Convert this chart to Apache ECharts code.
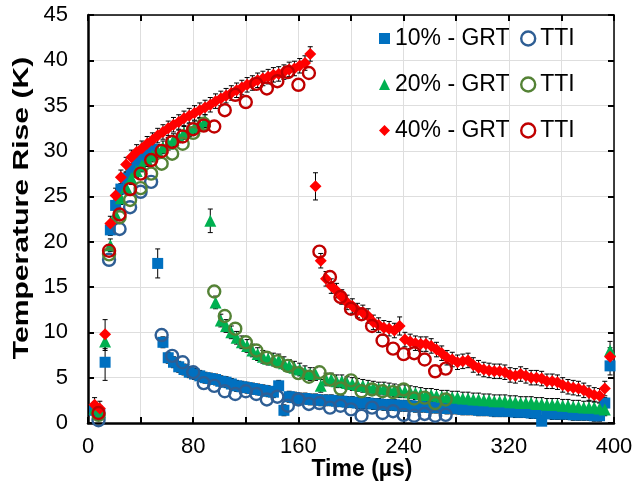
<!DOCTYPE html>
<html><head><meta charset="utf-8">
<script src="https://cdn.jsdelivr.net/npm/echarts@6/dist/echarts.min.js"></script>
<style>html,body{margin:0;padding:0;background:#fff}#c{width:634px;height:492px}</style>
</head><body><div id="c"></div>
<script>
// ---- data ----
const tGRT = [5,9,13,17,21,25,29,33,37,41,
  45,49,53,57,61,65,69,73,77,81,
  85,89,93,97,101,105,109,113,117,121,
  125,129,133,137,141,145,149,153,157,161,
  165,169,173,177,181,185,189,193,197,201,
  205,209,213,217,221,225,229,233,237,241,
  245,249,253,257,261,265,269,273,277,281,
  285,289,293,297,301,305,309,313,317,321,
  325,329,333,337,341,345,349,353,357,361,
  365,369,373,377,381,385,389,393,397];
const grt10 = [1.4,1.0,6.7,21.3,24.0,25.8,27.0,28.0,28.7,29.3,
  29.8,30.2,17.6,8.9,7.2,6.7,6.2,5.9,5.6,5.4,
  5.2,5.0,4.9,4.8,4.6,4.5,4.3,4.1,4.0,3.9,
  3.8,3.7,3.6,3.5,3.4,4.1,1.4,2.9,2.8,2.7,
  2.7,2.6,2.6,2.5,2.5,2.5,2.4,2.4,2.3,2.3,
  2.2,2.2,2.2,2.1,2.1,2.0,2.0,2.0,1.9,1.9,
  1.9,1.8,1.8,1.8,1.7,1.7,1.7,1.6,1.6,1.6,
  1.5,1.5,1.5,1.4,1.4,1.4,1.3,1.3,1.3,1.3,
  1.2,1.2,1.2,1.1,1.1,0.2,1.1,1.0,1.0,1.0,
  1.0,0.9,0.9,0.9,0.9,0.8,0.8,2.2,6.3];
const grt20 = [1.6,1.2,9.0,19.6,23.0,24.8,26.0,27.0,27.8,28.4,
  29.0,29.5,30.0,30.4,30.8,31.2,31.6,32.0,32.3,32.6,
  32.9,33.3,22.3,13.3,11.3,10.7,10.0,9.4,8.9,8.5,
  8.0,7.6,7.3,7.1,7.0,6.9,6.6,6.3,6.1,5.9,
  5.6,5.4,5.4,4.1,4.8,4.8,4.6,4.6,4.4,4.3,
  4.2,4.1,4.0,3.9,3.8,3.8,3.7,3.6,3.5,3.5,
  3.4,3.3,3.2,3.1,3.1,3.0,2.9,2.9,2.8,2.8,
  2.7,2.7,2.6,2.6,2.5,2.5,2.4,2.4,2.4,2.3,
  2.3,2.2,2.2,2.2,2.1,2.1,2.0,2.0,2.0,1.9,
  1.9,1.8,1.8,1.7,1.7,1.7,1.6,1.5,8.0];
const grt40 = [2.0,1.6,9.8,22.0,25.1,27.1,28.5,29.3,29.9,30.3,
  30.8,31.2,31.7,32.1,32.5,32.9,33.2,33.6,33.9,34.2,
  34.5,34.8,35.1,35.5,35.8,36.1,36.4,36.7,37.0,37.3,
  37.5,37.8,38.0,38.2,38.4,38.5,38.7,39.0,39.1,39.4,
  39.7,40.7,26.1,17.9,15.9,15.1,14.6,13.9,13.3,12.9,
  12.4,12.2,11.8,11.1,10.8,10.5,10.4,10.2,10.7,9.2,
  9.0,8.8,8.7,8.7,8.5,8.1,7.7,7.2,7.0,6.7,
  6.8,6.9,6.4,6.1,5.9,5.8,5.7,5.7,5.6,5.3,
  5.2,5.4,5.2,5.0,5.0,4.9,4.6,4.6,4.5,4.2,
  4.0,3.9,3.8,3.6,3.3,3.1,3.0,3.8,7.3];
const err10 = [0.6,0.6,2.0,0.6,0.6,0.6,0.6,0.6,0.6,0.6,
  0.6,0.6,1.6,0.6,0.6,0.6,0.6,0.6,0.6,0.6,
  0.6,0.6,0.6,0.6,0.6,0.6,0.6,0.6,0.6,0.6,
  0.6,0.6,0.6,0.6,0.6,0.6,0.6,0.6,0.6,0.6,
  0.6,0.6,0.6,0.6,0.6,0.6,0.6,0.6,0.6,0.6,
  0.6,0.6,0.6,0.6,0.6,0.6,0.6,0.6,0.6,0.6,
  0.6,0.6,0.6,0.6,0.6,0.6,0.6,0.6,0.6,0.6,
  0.6,0.6,0.6,0.6,0.6,0.6,0.6,0.6,0.6,0.6,
  0.6,0.6,0.6,0.6,0.6,0.6,0.6,0.6,0.6,0.6,
  0.6,0.6,0.6,0.6,0.6,0.6,0.6,0.6,1.0];
const err20 = [0.7,0.7,1.0,0.7,0.7,0.7,0.7,0.7,0.7,0.7,
  0.7,0.7,0.7,0.7,0.7,0.7,0.7,0.7,0.7,0.7,
  0.7,0.7,1.3,0.7,0.7,0.7,0.7,0.7,0.7,0.7,
  0.7,0.7,0.7,0.7,0.7,0.7,0.7,0.7,0.7,0.7,
  0.7,0.7,0.7,0.7,0.7,0.7,0.7,0.7,0.7,0.7,
  0.7,0.7,0.7,0.7,0.7,0.7,0.7,0.7,0.7,0.7,
  0.7,0.7,0.7,0.7,0.7,0.7,0.7,0.7,0.7,0.7,
  0.7,0.7,0.7,0.7,0.7,0.7,0.7,0.7,0.7,0.7,
  0.7,0.7,0.7,0.7,0.7,0.7,0.7,0.7,0.7,0.7,
  0.7,0.7,0.7,0.7,0.7,0.7,0.7,0.7,1.0];
const err40 = [0.8,0.8,1.6,0.8,0.8,0.8,0.8,0.8,0.8,0.8,
  0.8,0.8,0.8,0.8,0.8,0.8,0.8,0.8,0.8,0.8,
  0.8,0.8,0.8,0.8,0.8,0.8,0.8,0.8,0.8,0.8,
  0.8,0.8,0.8,0.8,0.8,0.8,0.8,0.8,0.8,0.8,
  0.8,0.8,1.5,0.8,0.8,0.8,0.8,0.8,0.8,0.8,
  0.8,0.8,0.8,0.8,0.8,0.8,0.8,0.8,1.0,0.8,
  0.8,0.8,0.8,0.8,0.8,0.8,0.8,0.8,0.8,0.8,
  0.8,0.8,0.8,0.8,0.8,0.8,0.8,0.8,0.8,0.8,
  0.8,0.8,0.8,0.8,0.8,0.8,0.8,0.8,0.8,0.8,
  0.8,0.8,0.8,0.8,0.8,0.8,0.8,0.8,1.0];
const tTTI = [8,16,24,32,40,48,56,64,72,80,88,96,104,112,120,128,136,144,152,160,168,176,184,192,200,208,216,224,232,240,248,256,264,272];
const tti10 = [0.3,18.0,21.4,23.8,25.5,26.6,9.7,7.4,6.7,5.6,4.4,4.1,3.5,3.2,3.5,3.2,2.6,2.9,1.9,2.6,2.1,2.2,1.7,1.9,1.5,0.8,1.7,1.1,1.3,0.9,0.8,1.0,0.8,0.9];
const tti20 = [0.9,18.6,22.7,24.6,25.9,27.5,28.6,29.7,30.8,32.0,33.0,14.5,11.8,10.4,8.9,8.0,7.2,6.8,6.3,5.5,5.1,5.6,4.8,3.8,4.7,3.5,3.7,3.5,3.4,3.7,2.7,2.8,2.2,2.6];
const tti40 = [1.1,19.0,23.0,25.8,27.5,29.0,30.0,31.0,31.6,32.4,32.8,32.7,34.5,36.2,35.4,37.4,36.9,37.7,38.7,37.3,38.6,18.9,16.1,13.9,12.6,12.0,10.7,9.1,8.2,7.6,7.7,7.0,5.7,6.0];
const xTicks = [0,80,160,240,320,400];
const names = ['10% - GRT','20% - GRT','40% - GRT'];
const ttiNames = ['10% TTI','20% TTI','40% TTI'];

// ---- styling ----
const FONT = '"Liberation Sans", Arial, Helvetica, sans-serif';
const cGRT = ['#0070C0','#00B050','#FF0000'];
const cTTI = ['#2E5E94','#548235','#C00000'];
const syms = ['rect','triangle','diamond'];
const symSize = [11,12,12];

function pairs(t, v){ return t.map((x,i)=>[x, v[i]]); }
function errSeries(t, v, e){
  return {
    type:'custom', silent:true, clip:true, z:2,
    data: t.map((x,i)=>[x, v[i], e[i]]),
    renderItem(params, api){
      const x = api.value(0), y = api.value(1), d = api.value(2);
      const top = api.coord([x, y + d]);
      const bot = api.coord([x, y - d]);
      const hw = 2.5, st = {stroke:'#000', lineWidth:1};
      return {type:'group', children:[
        {type:'line', shape:{x1:top[0],y1:top[1],x2:bot[0],y2:bot[1]}, style:st},
        {type:'line', shape:{x1:top[0]-hw,y1:top[1],x2:top[0]+hw,y2:top[1]}, style:st},
        {type:'line', shape:{x1:bot[0]-hw,y1:bot[1],x2:bot[0]+hw,y2:bot[1]}, style:st}
      ]};
    }
  };
}
const grtVals = [grt10, grt20, grt40];
const errVals = [err10, err20, err40];
const ttiVals = [tti10, tti20, tti40];

const series = [];
for (let k=0;k<3;k++) series.push(errSeries(tGRT, grtVals[k], errVals[k]));
for (let k=0;k<3;k++){
  series.push({type:'scatter', name:names[k], symbol:syms[k], symbolSize:symSize[k], z:3,
    itemStyle:{color:cGRT[k], opacity:1}, data:pairs(tGRT, grtVals[k])});
  series.push({type:'scatter', name:ttiNames[k], symbol:'circle', symbolSize:12, z:3,
    itemStyle:{color:'rgba(0,0,0,0)', borderColor:cTTI[k], borderWidth:2.4, opacity:1},
    data:pairs(tTTI, ttiVals[k])});
}

const axisCommon = {
  axisLine:{show:true, onZero:false, lineStyle:{color:'#000', width:2.5}},
  axisTick:{show:true, inside:true, length:6, lineStyle:{color:'#000', width:2}},
};
const option = {
  animation:false,
  backgroundColor:'#fff',
  grid:{left:88, right:20, top:15, bottom:69, containLabel:false, outerBoundsMode:'none'},
  xAxis:[
    Object.assign({type:'value', position:'bottom', min:0, max:400, interval:40,
      axisLabel:{fontSize:22, color:'#000', fontFamily:FONT, margin:13,
        formatter:v => xTicks.indexOf(v) >= 0 ? String(v) : ''},
      splitLine:{show:true, lineStyle:{color:'#dedede', width:1}}}, axisCommon),
    {type:'value', position:'top', min:0, max:400, interval:40,
      axisLine:{show:true, onZero:false, lineStyle:{color:'#000', width:1.5}},
      axisTick:{show:true, inside:true, length:6, lineStyle:{color:'#000', width:2}},
      axisLabel:{show:false}, splitLine:{show:false}}
  ],
  yAxis:[
    Object.assign({type:'value', position:'left', min:0, max:45, interval:5,
      axisLabel:{fontSize:22, color:'#000', fontFamily:FONT, margin:20},
      splitLine:{show:true, lineStyle:{color:'#dedede', width:1}}}, axisCommon),
    {type:'value', position:'right', min:0, max:45, interval:5,
      axisLine:{show:true, onZero:false, lineStyle:{color:'#000', width:1.5}},
      axisTick:{show:true, inside:true, length:6, lineStyle:{color:'#000', width:2}},
      axisLabel:{show:false}, splitLine:{show:false}}
  ],
  legend:[
    {orient:'vertical', left:374, top:22, itemWidth:11, itemHeight:11, itemGap:23,
      selectedMode:false, textStyle:{fontSize:23, color:'#000', fontFamily:FONT},
      data:names.map((n,k)=>({name:n, icon:syms[k]}))},
    {orient:'vertical', left:515, top:22, itemWidth:14, itemHeight:14, itemGap:23,
      selectedMode:false, formatter:() => 'TTI',
      textStyle:{fontSize:23, color:'#000', fontFamily:FONT},
      data:ttiNames.map((n,k)=>({name:n, icon:'circle',
        itemStyle:{color:'rgba(0,0,0,0)', borderColor:cTTI[k], borderWidth:2.4}}))}
  ],
  graphic:[
    {type:'text', x:22, y:208, rotation:Math.PI/2, scaleX:1.37, silent:true,
      style:{text:'Temperature Rise (K)', font:'bold 22px ' + FONT, fill:'#000', align:'center', verticalAlign:'middle'}},
    {type:'text', x:362, y:470, silent:true,
      style:{text:'Time (µs)', font:'bold 23px ' + FONT, fill:'#000', align:'center', verticalAlign:'middle'}}
  ],
  series:series
};
const chart = echarts.init(document.getElementById('c'));
chart.setOption(option);
</script>
</body></html>
